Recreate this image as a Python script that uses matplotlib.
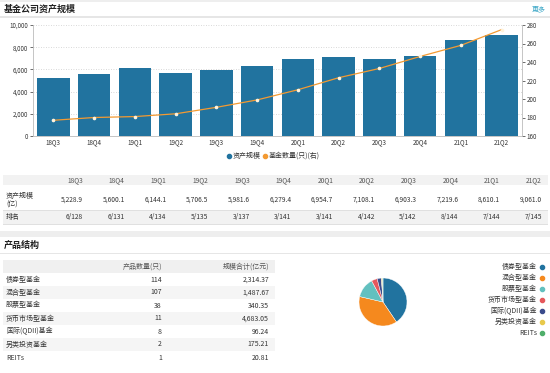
import matplotlib
matplotlib.use("Agg")
import matplotlib.pyplot as plt
from matplotlib.patches import Rectangle
from matplotlib.lines import Line2D

plt.rcParams['font.family'] = ['Noto Sans CJK SC', 'DejaVu Sans']

# data
quarters = ["18Q3", "18Q4", "19Q1", "19Q2", "19Q3", "19Q4",
            "20Q1", "20Q2", "20Q3", "20Q4", "21Q1", "21Q2"]
asset_scale = [5228.9, 5600.1, 6144.1, 5706.5, 5981.6, 6279.4,
               6954.7, 7108.1, 6903.3, 7219.6, 8610.1, 9061.0]
fund_count = [177, 180, 181, 184, 191, 199, 210, 223, 233, 246, 258, 275]
rank = ["6/128", "6/131", "4/134", "5/135", "3/137", "3/141",
        "3/141", "4/142", "5/142", "8/144", "7/144", "7/145"]

fund_types = ["债券型基金", "混合型基金", "股票型基金", "货币市场型基金",
              "国际(QDII)基金", "另类投资基金", "REITs"]
type_counts = [114, 107, 38, 11, 8, 2, 1]
type_scale = [2314.37, 1487.67, 340.35, 4683.05, 96.24, 175.21, 20.81]

BAR = "#21739f"
ORANGE = "#f39a32"
pie_colors = ["#21739f", "#f5891e", "#62c0bf", "#e5585c",
              "#3b4b8c", "#e8c94b", "#4fae6a"]
TXT = "#333333"
GRAY_BG = "#f2f2f2"

W, H = 550, 373
fig = plt.figure(figsize=(5.5, 3.73), dpi=100)
fig.patch.set_facecolor("white")


def fx(px):
    return px / W


def fy(py):
    return 1 - py / H


def rect(x0, y0, x1, y1, color):
    fig.patches.append(Rectangle((fx(x0), fy(y1)), fx(x1) - fx(x0), (y1 - y0) / H,
                                 transform=fig.transFigure, color=color, lw=0, zorder=0))


def txt(x, y, s, ha="left", size=5, color=TXT, weight="normal"):
    fig.text(fx(x), fy(y), s, ha=ha, va="center", fontsize=size, color=color, weight=weight)


# header area
rect(0, 0, 550, 2, "#eeeeee")
txt(4, 9, "基金公司资产规模", size=6.5, color="#222222", weight="bold")
txt(546, 9, "更多", ha="right", size=5, color="#3aa6c6")
rect(0, 16, 550, 17.5, "#e6e6e6")

# bar + line chart
ax = fig.add_axes([fx(33), fy(136), fx(489), 111 / H])
x = list(range(len(quarters)))
ax.bar(x, asset_scale, width=0.8, color=BAR, zorder=2)
ax.set_xlim(-0.5, len(quarters) - 0.5)
ax.set_ylim(0, 10000)
ax.set_yticks(range(0, 10001, 2000))
ax.set_yticklabels(["{:,}".format(v) for v in range(0, 10001, 2000)])
ax.set_xticks(x)
ax.set_xticklabels(quarters)
ax.yaxis.grid(True, linestyle=(0, (1, 2)), color="#cccccc", lw=0.6, zorder=0)
for s in ["top", "right"]:
    ax.spines[s].set_visible(False)
for s in ["left", "bottom"]:
    ax.spines[s].set_color("#bbbbbb")
    ax.spines[s].set_linewidth(0.6)
ax.tick_params(labelsize=4.5, colors=TXT, length=2, width=0.5, pad=1.5)
ax.tick_params(axis="x", length=0)

ax2 = ax.twinx()
ax2.plot(x, fund_count, color=ORANGE, lw=0.9, marker="o", ms=1.6,
         mfc="#fff3dd", mec="#fff3dd", zorder=3)
ax2.set_ylim(160, 280)
ax2.set_yticks(range(160, 281, 20))
for s in ["top", "left", "bottom"]:
    ax2.spines[s].set_visible(False)
ax2.spines["right"].set_color("#bbbbbb")
ax2.spines["right"].set_linewidth(0.6)
ax2.tick_params(labelsize=4.5, colors=TXT, length=2, width=0.5, pad=1.5)

# legend
fig.lines.append(Line2D([fx(229)], [fy(156)], marker="o", ms=3, color=BAR,
                        transform=fig.transFigure, lw=0))
txt(233, 156, "资产规模", size=5)
fig.lines.append(Line2D([fx(265)], [fy(156)], marker="o", ms=3, color=ORANGE,
                        transform=fig.transFigure, lw=0))
txt(269, 156, "基金数量(只)(右)", size=5)

# quarterly table
rect(3, 175, 548, 185, GRAY_BG)
rect(3, 211, 548, 224, GRAY_BG)
rect(3, 210, 548, 210.6, "#e0e0e0")
rect(3, 224.5, 548, 225, "#e0e0e0")
txt(6, 196, "资产规模", size=5)
txt(6, 205, "(亿)", size=5)
txt(6, 217, "排名", size=5)
for i, q in enumerate(quarters):
    xr = 83 + i * 41.7
    txt(xr, 180, q, ha="right", size=4.8, color="#555555")
    txt(xr, 200, "{:,.1f}".format(asset_scale[i]), ha="right", size=4.8)
    txt(xr, 217, rank[i], ha="right", size=4.8)

# separator
rect(0, 231, 550, 237, "#eeeeee")

# product structure
txt(4, 245, "产品结构", size=6.5, color="#222222", weight="bold")
rect(0, 252.5, 550, 253.5, "#e6e6e6")
rect(3, 260, 275, 273, "#f0f0f0")
txt(162, 266.5, "产品数量(只)", ha="right", size=5, color="#555555")
txt(269, 266.5, "规模合计(亿元)", ha="right", size=5, color="#555555")
for i, name in enumerate(fund_types):
    yc = 279.5 + i * 13
    if i % 2 == 1:
        rect(3, yc - 6.5, 275, yc + 6.5, "#f5f5f5")
    rect(3, yc + 6.3, 275, yc + 6.7, "#e8e8e8")
    txt(6, yc, name, size=5)
    txt(162, yc, str(type_counts[i]), ha="right", size=5)
    txt(269, yc, "{:,.2f}".format(type_scale[i]), ha="right", size=5)

# pie
r = 30
pax = fig.add_axes([fx(383 - r), fy(302 + r), fx(2 * r), 2 * r / H])
pax.pie(type_counts, colors=pie_colors, startangle=90, counterclock=False,
        wedgeprops=dict(edgecolor="white", linewidth=0.3))
pax.set_aspect("equal")

for i, name in enumerate(fund_types):
    yc = 267 + i * 11
    txt(537, yc, name, ha="right", size=5)
    fig.lines.append(Line2D([fx(542)], [fy(yc)], marker="o", ms=3, color=pie_colors[i],
                            transform=fig.transFigure, lw=0))

fig.savefig("out.png", dpi=100)
